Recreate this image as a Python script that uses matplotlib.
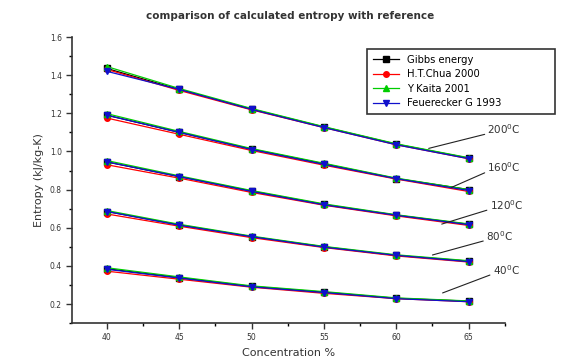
import matplotlib.pyplot as plt
from matplotlib.ticker import MultipleLocator

# concentration (%) and temperature groups
conc = [40, 45, 50, 55, 60, 65]
temps = [200, 160, 120, 80, 40]

gibbs = [
    [1.435, 1.325, 1.222, 1.128, 1.038, 0.965],
    [1.190, 1.100, 1.012, 0.935, 0.858, 0.800],
    [0.945, 0.868, 0.792, 0.722, 0.666, 0.618],
    [0.685, 0.615, 0.553, 0.500, 0.455, 0.425],
    [0.385, 0.338, 0.292, 0.262, 0.230, 0.215],
]
chua = [
    [1.430, 1.320, 1.218, 1.125, 1.035, 0.962],
    [1.175, 1.090, 1.005, 0.928, 0.855, 0.790],
    [0.930, 0.860, 0.785, 0.718, 0.662, 0.612],
    [0.672, 0.608, 0.548, 0.496, 0.452, 0.420],
    [0.372, 0.330, 0.288, 0.256, 0.228, 0.212],
]
kaita = [
    [1.445, 1.330, 1.225, 1.130, 1.040, 0.967],
    [1.198, 1.105, 1.015, 0.938, 0.860, 0.800],
    [0.952, 0.872, 0.795, 0.725, 0.668, 0.620],
    [0.690, 0.618, 0.556, 0.502, 0.458, 0.427],
    [0.390, 0.342, 0.295, 0.265, 0.232, 0.216],
]
feuerecker = [
    [1.420, 1.325, 1.220, 1.125, 1.035, 0.962],
    [1.190, 1.100, 1.010, 0.932, 0.857, 0.795],
    [0.945, 0.868, 0.790, 0.720, 0.665, 0.616],
    [0.685, 0.613, 0.553, 0.498, 0.455, 0.422],
    [0.382, 0.336, 0.290, 0.260, 0.228, 0.212],
]

series = [
    ("Gibbs energy", gibbs, "black", "s"),
    ("H.T.Chua 2000", chua, "red", "o"),
    ("Y Kaita 2001", kaita, "#00CC00", "^"),
    ("Feuerecker G 1993", feuerecker, "#1010CC", "v"),
]

# label text position and curve point for each temperature group
label_pos = [(66.3, 1.115), (66.3, 0.916), (66.45, 0.718), (66.2, 0.556), (66.66, 0.379)]
label_tip = [(62.24, 1.016), (63.83, 0.812), (63.14, 0.619), (62.5, 0.457), (63.2, 0.258)]

plt.rcParams.update({"font.family": "DejaVu Sans"})
fig = plt.figure(figsize=(5.73, 3.63), dpi=100)
ax = fig.add_axes([0.126, 0.110, 0.755, 0.788])

for name, data, color, marker in series:
    for i, vals in enumerate(data):
        ax.plot(conc, vals, color=color, marker=marker, markersize=4, linewidth=0.9,
                label=name if i == 0 else None)

for t, (tx, ty), (px, py) in zip(temps, label_pos, label_tip):
    ax.annotate(f"{t}$^0$C", xy=(px, py), xytext=(tx, ty), fontsize=7.5, color="#333333",
                ha="left", va="center",
                arrowprops=dict(arrowstyle="-", color="#222222", lw=0.8,
                                shrinkA=0, shrinkB=0, relpos=(0, 0.2)))

ax.set_xlim(37.6, 67.5)
ax.set_ylim(0.1, 1.6)
ax.xaxis.set_major_locator(MultipleLocator(5))
ax.xaxis.set_minor_locator(MultipleLocator(2.5))
ax.yaxis.set_major_locator(MultipleLocator(0.2))
ax.yaxis.set_minor_locator(MultipleLocator(0.1))
ax.set_yticks([0.2, 0.4, 0.6, 0.8, 1.0, 1.2, 1.4, 1.6])
ax.tick_params(labelsize=5.5, colors="#333333", length=4, width=1)
ax.tick_params(which="minor", length=2.5, width=1)
for side in ("top", "right"):
    ax.spines[side].set_visible(False)
for side in ("left", "bottom"):
    ax.spines[side].set_linewidth(1.2)
    ax.spines[side].set_color("#333333")

ax.set_xlabel("Concentration %", fontsize=8, color="#333333")
ax.set_ylabel("Entropy (kJ/kg-K)", fontsize=8, color="#333333")
fig.text(0.506, 0.955, "comparison of calculated entropy with reference",
         ha="center", va="center", fontsize=7.5, color="#333333", fontweight="semibold")

leg = ax.legend(loc="upper left", bbox_to_anchor=(0.632, 0.685, 0.345, 0.194),
                bbox_transform=fig.transFigure, mode="expand",
                fontsize=7.2, fancybox=False, edgecolor="#333333", framealpha=1,
                handlelength=2.6, borderpad=0.6, labelspacing=0.45)
leg.get_frame().set_linewidth(1.2)

fig.savefig("out.png", dpi=100)
